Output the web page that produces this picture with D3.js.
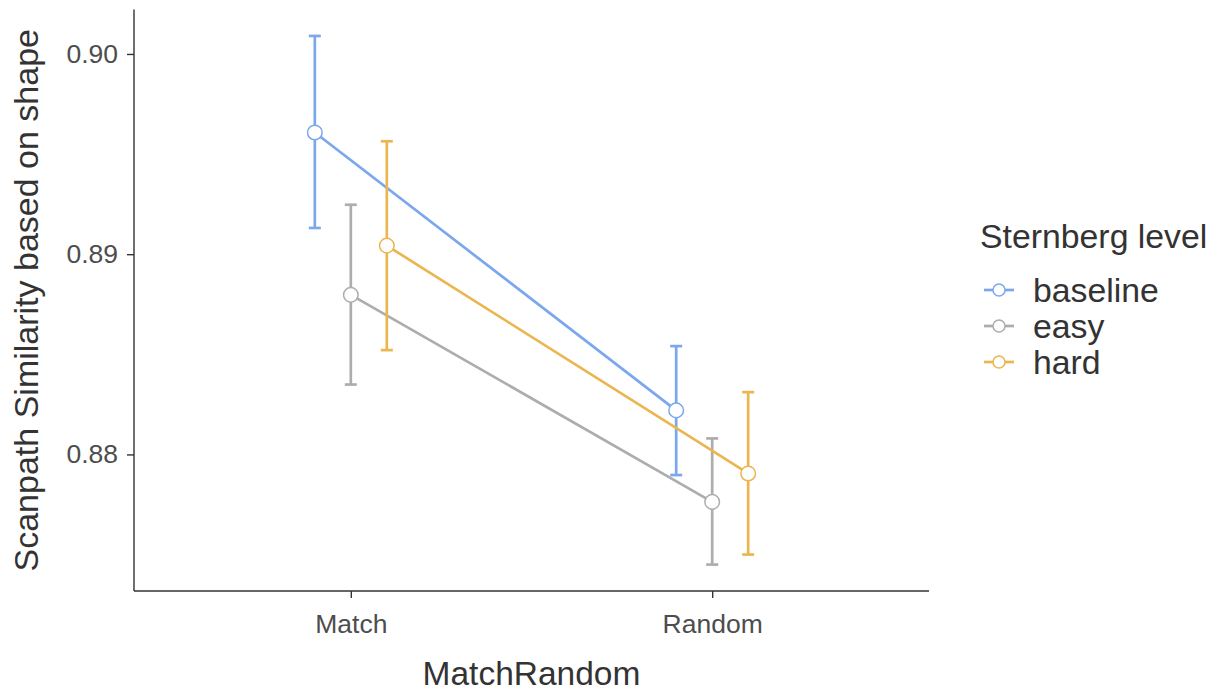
<!DOCTYPE html>
<html>
<head>
<meta charset="utf-8">
<script src="https://cdn.jsdelivr.net/npm/d3@7"></script>
<style>
  html, body { margin: 0; padding: 0; background: #fff; }
  svg { display: block; font-family: "Liberation Sans", Arial, sans-serif; }
</style>
</head>
<body>
<svg id="chart" width="1221" height="691"></svg>
<script>
// Scanpath similarity by trial type and Sternberg load level
const categories = ["Match", "Random"];
const levels = ["baseline", "easy", "hard"];
const levelColors = ["#7ba7ee", "#adadad", "#ebb54f"];

const baselineMean  = [0.89608, 0.88220];
const baselineLower = [0.89131, 0.87897];
const baselineUpper = [0.90090, 0.88541];

const easyMean  = [0.88797, 0.87763];
const easyLower = [0.88349, 0.87450];
const easyUpper = [0.89247, 0.88080];

const hardMean  = [0.89043, 0.87905];
const hardLower = [0.88521, 0.87500];
const hardUpper = [0.89564, 0.88311];

const yTicks = [0.88, 0.89, 0.90];
const yTickLabels = ["0.88", "0.89", "0.90"];

const series = [
  { level: "baseline", mean: baselineMean, lo: baselineLower, hi: baselineUpper },
  { level: "easy",     mean: easyMean,     lo: easyLower,     hi: easyUpper },
  { level: "hard",     mean: hardMean,     lo: hardLower,     hi: hardUpper }
];

const svg = d3.select("#chart");
const panel = { left: 134, right: 929, top: 9.5, bottom: 591 };

// discrete x axis with 0.6 unit padding on each side
const xPos = d3.scalePoint().domain(categories)
  .range([panel.left, panel.right]).padding(0.6);
const dodge = d3.scalePoint().domain(levels).range([-36, 36]);

const allVals = [].concat(...series.map(s => s.lo.concat(s.hi)));
const lo = d3.min(allVals), hi = d3.max(allVals), pad = (hi - lo) * 0.05;
const y = d3.scaleLinear().domain([lo - pad, hi + pad]).range([panel.bottom, panel.top]);

const color = d3.scaleOrdinal().domain(levels).range(levelColors);

// axes
const yAxis = d3.axisLeft(y).tickValues(yTicks)
  .tickFormat((d, i) => yTickLabels[i]).tickSize(7).tickPadding(9);
const gy = svg.append("g").attr("transform", `translate(${panel.left},0)`).call(yAxis);
gy.select(".domain").attr("d", `M0,${panel.top}V${panel.bottom}`);

const xAxis = d3.axisBottom(xPos).tickSize(7).tickPadding(16);
const gx = svg.append("g").attr("transform", `translate(0,${panel.bottom})`).call(xAxis);
gx.select(".domain").attr("d", `M${panel.left},0H${panel.right}`);

[gx, gy].forEach(g => {
  g.attr("font-size", null).attr("font-family", null);
  g.select(".domain").attr("stroke", "#333").attr("stroke-width", 1.4);
  g.selectAll(".tick line").attr("stroke", "#333").attr("stroke-width", 1.4);
  g.selectAll(".tick text").attr("fill", "#4d4d4d").style("font-size", "26.5px");
});

// lines, error bars, points
const line = d3.line()
  .x((d, i) => xPos(categories[i]) + dodge(d.level))
  .y(d => y(d.v));

series.forEach(s => {
  const c = color(s.level);
  const pts = s.mean.map(v => ({ level: s.level, v }));
  svg.append("path").datum(pts).attr("d", line)
    .attr("fill", "none").attr("stroke", c).attr("stroke-width", 2.7);

  const g = svg.append("g");
  categories.forEach((cat, i) => {
    const cx = xPos(cat) + dodge(s.level);
    g.append("line").attr("x1", cx).attr("x2", cx)
      .attr("y1", y(s.lo[i])).attr("y2", y(s.hi[i]))
      .attr("stroke", c).attr("stroke-width", 2.7);
    [s.lo[i], s.hi[i]].forEach(v => {
      g.append("line").attr("x1", cx - 6).attr("x2", cx + 6)
        .attr("y1", y(v)).attr("y2", y(v))
        .attr("stroke", c).attr("stroke-width", 2.7);
    });
  });
  categories.forEach((cat, i) => {
    svg.append("circle")
      .attr("cx", xPos(cat) + dodge(s.level)).attr("cy", y(s.mean[i]))
      .attr("r", 7.3).attr("fill", "#fff").attr("stroke", c).attr("stroke-width", 1.5);
  });
});

// axis titles
svg.append("text").attr("x", (panel.left + panel.right) / 2).attr("y", 685)
  .attr("text-anchor", "middle").attr("fill", "#333").style("font-size", "33.5px")
  .text("MatchRandom");
svg.append("text")
  .attr("transform", `translate(38,${(panel.top + panel.bottom) / 2}) rotate(-90)`)
  .attr("text-anchor", "middle").attr("fill", "#333").style("font-size", "34px")
  .text("Scanpath Similarity based on shape");

// legend
const legend = svg.append("g").attr("transform", "translate(980,0)");
legend.append("text").attr("x", 0).attr("y", 248).attr("fill", "#333")
  .style("font-size", "33.8px").text("Sternberg level");
levels.forEach((lv, i) => {
  const ly = 290 + i * 36;
  const c = color(lv);
  legend.append("line").attr("x1", 4).attr("x2", 34).attr("y1", ly).attr("y2", ly)
    .attr("stroke", c).attr("stroke-width", 2.7);
  legend.append("circle").attr("cx", 19).attr("cy", ly).attr("r", 6)
    .attr("fill", "#fff").attr("stroke", c).attr("stroke-width", 1.5);
  legend.append("text").attr("x", 53).attr("y", ly + 12).attr("fill", "#333")
    .style("font-size", "33.8px").text(lv);
});
</script>
</body>
</html>
